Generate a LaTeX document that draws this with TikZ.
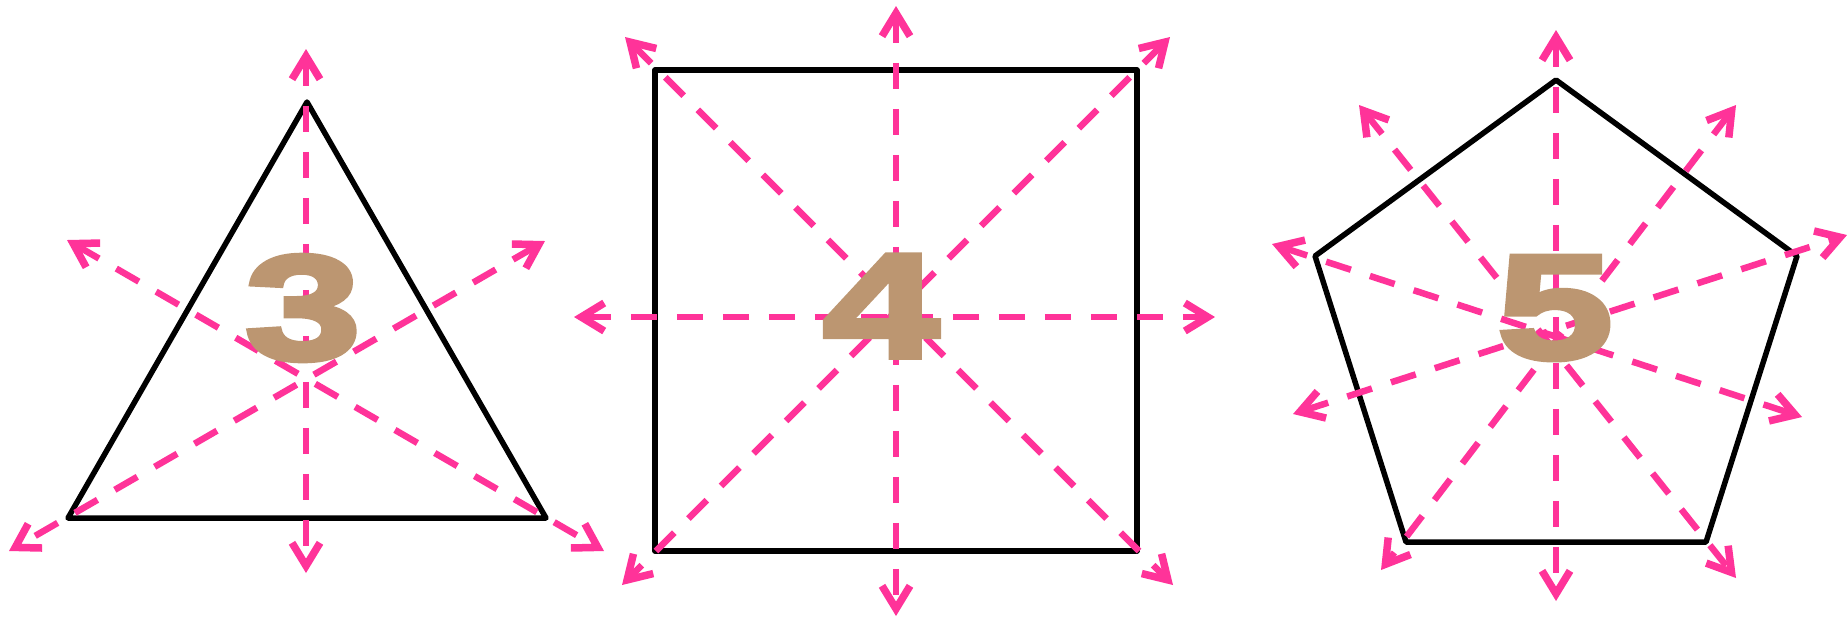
\documentclass[tikz,border=0pt]{standalone}
\usepackage{fontspec}
\usetikzlibrary{arrows.meta}
\newfontfamily\digitfont[FakeBold=4,FakeStretch=1.42]{Liberation Sans Bold}

\tikzset{every picture/.style={line width=0.5mm}}
\tikzset{
    outline/.style={draw=black, line width=0.55mm, line join=round},
    symline/.style={<->, >={Straight Barb[length=2.3mm,width=2.8mm,line width=0.75mm]}, color={rgb,255:red,255;green,51;blue,153}, line width=0.65mm, dash pattern=on 2.6mm off 2mm},
    digit/.style={inner sep=0pt, color={rgb,255:red,188;green,150;blue,113}, font=\digitfont\fontsize{42}{42}\selectfont}
}

\begin{document}
\begin{tikzpicture}[x=0.1mm, y=-0.1mm]
        \useasboundingbox (0,0) rectangle (1847,619);
        % shapes
        \draw[outline] (307,102) -- (546,518) -- (68,518) -- cycle;
        \draw[outline] (655,70) rectangle (1137,551);
        \draw[outline] (1556,80) -- (1797,256) -- (1706,542) -- (1406,542) -- (1315,256) -- cycle;
        % triangle axes
        \coordinate (ta1) at (306,49);   \coordinate (ta2) at (306,573);
        \coordinate (tb1) at (67,240);   \coordinate (tb2) at (604,551);
        \coordinate (tc1) at (545,241);  \coordinate (tc2) at (9,551);
        % square axes
        \coordinate (sa1) at (896,6);    \coordinate (sa2) at (896,616);
        \coordinate (sb1) at (574,317);  \coordinate (sb2) at (1215,317);
        \coordinate (sc1) at (625,37);   \coordinate (sc2) at (1173,585);
        \coordinate (sd1) at (1170,37);  \coordinate (sd2) at (622,585);
        % pentagon axes
        \coordinate (pa1) at (1556,30);  \coordinate (pa2) at (1556,601);
        \coordinate (pb1) at (1359,105); \coordinate (pb2) at (1736,578);
        \coordinate (pc1) at (1736,105); \coordinate (pc2) at (1381,570);
        \coordinate (pd1) at (1272,244); \coordinate (pd2) at (1802,417);
        \coordinate (pe1) at (1293,414); \coordinate (pe2) at (1847,235);
        \foreach \a in {ta,tb,tc,sa,sb,sc,sd,pa,pb,pc,pd,pe}
            \draw[symline] (\a1) -- (\a2);
        % numbers
        \node[digit] (three) at (303,308) {3};
        \node[digit] (four) at (881,306) {4};
        \node[digit] (five) at (1555,308) {5};
    \end{tikzpicture}
\end{document}
